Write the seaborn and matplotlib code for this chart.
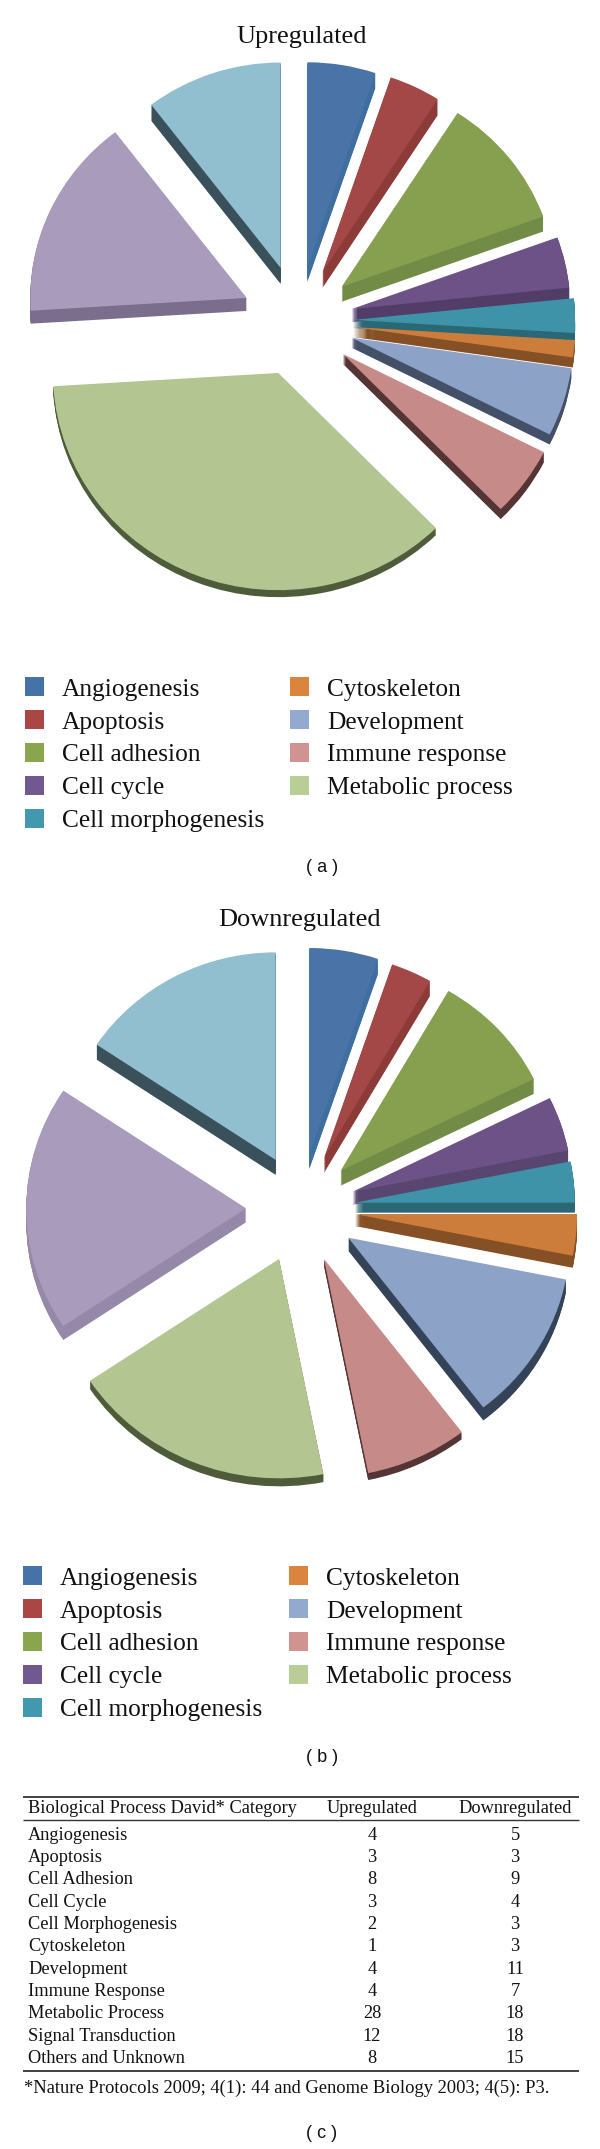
import matplotlib

matplotlib.use("Agg")
import matplotlib.pyplot as plt
import seaborn as sns
from matplotlib.patches import Patch

categories = [
    "Angiogenesis", "Apoptosis", "Cell adhesion", "Cell cycle", "Cell morphogenesis",
    "Cytoskeleton", "Development", "Immune response", "Metabolic process",
    "Signal transduction", "Others and unknown",
]
upregulated = [4, 3, 8, 3, 2, 1, 4, 4, 28, 12, 8]
downregulated = [5, 3, 9, 4, 3, 3, 11, 7, 18, 18, 15]

table_header = ["Biological Process David* Category", "Upregulated", "Downregulated"]
table_rows = [
    "Angiogenesis", "Apoptosis", "Cell Adhesion", "Cell Cycle", "Cell Morphogenesis", "Cytoskeleton",
    "Development", "Immune Response", "Metabolic Process", "Signal Transduction", "Others and Unknown",
]
footnote = "*Nature Protocols 2009; 4(1): 44 and Genome Biology 2003; 4(5): P3."

top_colors = ["#4A74A8", "#A34846", "#87A050", "#6C5287", "#3F93A8", "#CC7D3C",
              "#8CA2C6", "#C68B89", "#B3C692", "#A89BBB", "#92BFD0"]
side_up = ["#3F6F9F", "#8C3B39", "#728C48", "#523D68", "#2B6876", "#855025",
           "#435068", "#553435", "#4F5C3B", "#7A6E8C", "#3A515B"]
side_down = ["#3F6F9F", "#8C3B39", "#728C48", "#584570", "#2B6876", "#855025",
             "#344358", "#553435", "#4F5C3B", "#9688A8", "#3A515B"]
legend_colors = ["#4572A7", "#AA4643", "#89A54E", "#71588F", "#4198AF", "#DB843D",
                 "#93A9CF", "#D19392", "#B9CD96"]

# per slice look of the tilted pies: explode, radius scale, pixel nudge, side depth
explode_up = [0.28, 0.25, 0.26, 0.239, 0.239, 0.24, 0.244, 0.24, 0.21, 0.264, 0.28]
scale_up = [0.955, 0.96, 0.965, 0.985, 1.0, 1.0, 1.0, 1.015, 1.015, 0.975, 0.96]
nudge_up = [(-2.7, -2.2), (-1.6, -7.8), (-3.4, -6.6), (0, -7.6), (0, -7), (0, -6.2),
            (0, -6), (0, -4.4), (-5, 3), (0, -6.6), (0.6, -3.3)]
depth_up = [15, 16, 15, 13, 8, 10, 10, 10, 7, 13, 16]

explode_down = [0.26, 0.25, 0.24, 0.241, 0.24, 0.24, 0.245, 0.24, 0.27, 0.252, 0.26]
scale_down = [0.963, 0.955, 0.97, 0.99, 0.99, 1.0, 1.0, 1.02, 1.025, 0.99, 0.97]
nudge_down = [(-2.1, 0), (-0.9, -2.3), (-0.2, -3.2), (0, -0.7), (0, -1.3), (0, 0),
              (0, 1), (0, 3.2), (0, -3.4), (0, -0.7), (0.9, 0)]
depth_down = [15, 15, 15, 13, 10, 12, 13, 7, 8, 14, 15]

W, H = 600, 2149
RX, RY = 222, 214
SERIF = "Liberation Serif"

sns.set_theme(style="white")
plt.rcParams["font.family"] = [SERIF, "DejaVu Sans"]


def place_wedges(wedges, scale, nudge):
    for wedge, s, (dx, dy) in zip(wedges, scale, nudge):
        x, y = wedge.center
        wedge.set_center((x + dx / RX, y - dy / RY))
        wedge.set_radius(s)
        wedge.set_clip_on(False)


def draw_pie(fig, values, explode, scale, nudge, depth, sides, cx, cy):
    ax = fig.add_axes([(cx - 1.4 * RX) / W, 1 - (cy + 1.4 * RY) / H, 2.8 * RX / W, 2.8 * RY / H])
    for step in range(1, max(depth) + 1):
        wedges, _ = ax.pie(values, explode=explode, colors=sns.color_palette(sides), startangle=90,
                           counterclock=False, center=(0, -step / RY), wedgeprops={"linewidth": 0})
        place_wedges(wedges, scale, nudge)
        for wedge, d in zip(wedges, depth):
            wedge.set_visible(step <= d)
    wedges, _ = ax.pie(values, explode=explode, colors=sns.color_palette(top_colors), startangle=90,
                       counterclock=False, wedgeprops={"linewidth": 0})
    place_wedges(wedges, scale, nudge)
    ax.set_aspect("auto")
    ax.set_xlim(-1.4, 1.4)
    ax.set_ylim(-1.4, 1.4)
    ax.axis("off")
    return ax


def draw_legend(fig, y_top, x_left, x_right):
    for start, stop, x in [(0, 5, x_left), (5, 9, x_right)]:
        handles = [Patch(facecolor=legend_colors[i], edgecolor="none", label=categories[i])
                   for i in range(start, stop)]
        fig.legend(
            handles=handles, loc="upper left", bbox_to_anchor=(x / W, 1 - y_top / H), frameon=False,
            prop={"family": SERIF, "size": 18.3}, borderpad=0, borderaxespad=0, handlelength=0.75,
            handleheight=0.8, handletextpad=0.7, labelspacing=0.37, labelcolor="#111111",
        )


fig = plt.figure(figsize=(W / 100, H / 100), dpi=100, facecolor="white")
draw_pie(fig, upregulated, explode_up, scale_up, nudge_up, depth_up, side_up, 300, 328)
draw_pie(fig, downregulated, explode_down, scale_down, nudge_down, depth_down, side_down, 302, 1209)

overlay = fig.add_axes([0, 0, 1, 1], facecolor="none")
overlay.set_xlim(0, W)
overlay.set_ylim(H, 0)
overlay.axis("off")

overlay.text(302, 43, "Upregulated", ha="center", va="baseline", fontsize=19, color="#111111")
overlay.text(300, 926, "Downregulated", ha="center", va="baseline", fontsize=19, color="#111111")

draw_legend(fig, 677, 25, 290)
draw_legend(fig, 1566, 23, 289)

for label, y in [("( a )", 868), ("( b )", 1758), ("( c )", 2133)]:
    overlay.text(322, y, label, ha="center", va="center", fontsize=13, family="Liberation Sans", color="#111111")

for y, lw in [(1797, 1.3), (1820, 1.0), (2071, 1.3)]:
    overlay.hlines(y, 23, 579, color="#333333", linewidth=lw)

TABLE_SIZE = 13.2
overlay.text(28, 1813, table_header[0], ha="left", va="baseline", fontsize=TABLE_SIZE, color="#111111")
overlay.text(372, 1813, table_header[1], ha="center", va="baseline", fontsize=TABLE_SIZE, color="#111111")
overlay.text(515, 1813, table_header[2], ha="center", va="baseline", fontsize=TABLE_SIZE, color="#111111")
for i, row in enumerate(table_rows):
    y = 1839.5 + i * 22.35
    overlay.text(28, y, row, ha="left", va="baseline", fontsize=TABLE_SIZE, color="#111111")
    overlay.text(372, y, str(upregulated[i]), ha="center", va="baseline", fontsize=TABLE_SIZE, color="#111111")
    overlay.text(515, y, str(downregulated[i]), ha="center", va="baseline", fontsize=TABLE_SIZE, color="#111111")
overlay.text(24, 2093, footnote, ha="left", va="baseline", fontsize=13.3, color="#111111")

fig.savefig("out.png", dpi=100)
plt.close(fig)
